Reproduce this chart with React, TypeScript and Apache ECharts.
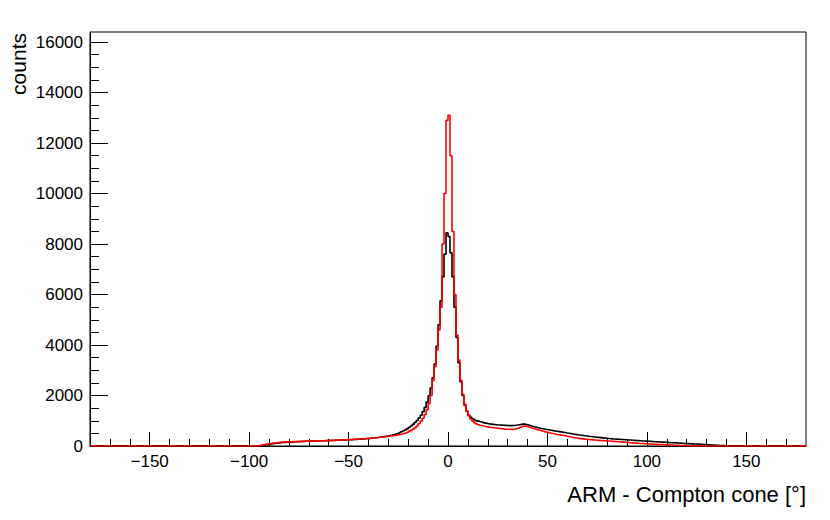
import React, { useEffect, useRef } from "react";
import * as echarts from "echarts";

// Histogram binning (1 degree bins), full range -180..180
const X_MIN = -180;
const X_MAX = 180;
const BIN_WIDTH = 1;
const BIN_START = -100; // lower edge of first listed bin; all bins outside the lists are 0
const Y_MAX = 16400;

// black histogram: bins with lower edges -100 .. 149
const blackCounts = [
  0, 0, 0, 0, 0, 10, 20, 35, 50, 65, 80, 95, 105, 115, 125, 130, 140, 145, 150, 155,
  160, 165, 170, 172, 175, 178, 180, 183, 186, 190,
  192, 195, 198, 200, 202, 205, 207, 210, 212, 215,
  218, 220, 222, 225, 228, 232, 235, 238, 242, 245,
  250, 253, 257, 262, 266, 270, 276, 282, 288, 295,
  302, 310, 318, 327, 336, 346, 358, 370, 384, 398,
  415, 432, 452, 475, 500, 528, 560, 595, 635, 680,
  730, 790, 855, 930, 1010, 1110, 1220, 1360, 1530, 1740,
  1990, 2300, 2700, 3250, 3950, 4800, 5750, 6700, 7600, 8450,
  8300, 7650, 6700, 5500, 4300, 3300, 2550, 2000, 1620, 1380,
  1220, 1140, 1080, 1030, 995, 970, 950, 925, 905, 888,
  875, 865, 855, 847, 840, 834, 828, 822, 816, 810,
  806, 808, 812, 820, 830, 845, 860, 870, 865, 845,
  820, 795, 770, 750, 730, 712, 695, 680, 665, 652,
  638, 625, 610, 596, 582, 570, 558, 545, 532, 518,
  505, 490, 476, 462, 450, 438, 427, 416, 405, 395,
  385, 376, 367, 358, 349, 340, 331, 322, 313, 304,
  295, 290, 284, 279, 273, 268, 262, 257, 251, 246,
  240, 235, 229, 224, 218, 212, 206, 200, 196, 192,
  187, 182, 177, 172, 168, 163, 158, 153, 148, 144,
  140, 135, 131, 127, 122, 117, 112, 107, 102, 98,
  94, 90, 86, 82, 78, 74, 70, 66, 62, 57,
  52, 47, 42, 37, 32, 27, 22, 18, 14, 10,
  7, 4, 2, 1, 0, 0, 0, 0, 0, 0,
];

// red histogram: bins with lower edges -100 .. 149
const redCounts = [
  0, 0, 0, 5, 15, 30, 45, 60, 75, 90,
  100, 110, 120, 130, 138, 145, 152, 158, 163, 167,
  170, 172, 175, 178, 180, 183, 185, 188, 190, 193,
  196, 198, 200, 203, 205, 208, 210, 212, 215, 218,
  221, 224, 227, 230, 234, 238, 242, 246, 250, 254,
  258, 262, 266, 270, 274, 279, 284, 289, 295, 301,
  307, 314, 321, 329, 337, 346, 355, 365, 376, 386,
  395, 405, 415, 428, 442, 458, 476, 497, 520, 548,
  580, 620, 668, 725, 795, 880, 980, 1100, 1250, 1440,
  1680, 2000, 2600, 3150, 3800, 4600, 5500, 8000, 10000, 12900,
  13100, 11500, 8500, 6000, 4400, 3400, 2600, 2050, 1650, 1380,
  1200, 1070, 980, 910, 870, 840, 810, 790, 772, 758,
  745, 735, 725, 715, 705, 695, 685, 677, 670, 665,
  662, 660, 665, 675, 692, 715, 745, 785, 790, 770,
  745, 720, 695, 670, 648, 625, 605, 585, 565, 545,
  525, 505, 488, 472, 458, 445, 432, 418, 403, 388,
  373, 358, 344, 330, 316, 302, 292, 283, 274, 266,
  258, 251, 244, 237, 230, 224, 218, 212, 206, 200,
  197, 191, 185, 179, 173, 167, 161, 155, 149, 143,
  137, 131, 125, 119, 113, 107, 102, 97, 92, 87,
  82, 78, 74, 70, 66, 62, 58, 54, 50, 46,
  42, 38, 34, 30, 27, 24, 21, 18, 15, 12,
  10, 8, 6, 4, 3, 2, 1, 0, 0, 0,
  0, 0, 0, 0, 0, 0, 0, 0, 0, 0,
  0, 0, 0, 0, 0, 0, 0, 0, 0, 0,
];

const xMajorTicks = [-150, -100, -50, 0, 50, 100, 150];
const xMinorTicks = [
  -170, -160, -150, -140, -130, -120, -110, -100, -90, -80, -70, -60, -50, -40, -30, -20, -10,
  0, 10, 20, 30, 40, 50, 60, 70, 80, 90, 100, 110, 120, 130, 140, 150, 160, 170,
];
const yMajorTicks = [0, 2000, 4000, 6000, 8000, 10000, 12000, 14000, 16000];
const yMinorTicks = [
  0, 500, 1000, 1500, 2000, 2500, 3000, 3500, 4000, 4500, 5000, 5500, 6000, 6500, 7000, 7500,
  8000, 8500, 9000, 9500, 10000, 10500, 11000, 11500, 12000, 12500, 13000, 13500, 14000,
  14500, 15000, 15500, 16000,
];

const xTitle = "ARM - Compton cone [°]";
const yTitle = "counts";

function histData(counts: number[]): number[][] {
  const pts: number[][] = [];
  for (let e = X_MIN; e < BIN_START; e += BIN_WIDTH) pts.push([e, 0]);
  counts.forEach((c, i) => pts.push([BIN_START + i * BIN_WIDTH, c]));
  for (let e = BIN_START + counts.length * BIN_WIDTH; e < X_MAX; e += BIN_WIDTH) pts.push([e, 0]);
  pts.push([X_MAX, 0]);
  return pts;
}

const FONT = '"Liberation Sans", Arial, Helvetica, sans-serif';

export default function App() {
  const ref = useRef<HTMLDivElement | null>(null);
  useEffect(() => {
    if (!ref.current) return;
    const chart = echarts.init(ref.current, null, { renderer: "svg" });
    const minus = (v: number) => String(v).replace("-", "\u2212");
    chart.setOption({
      animation: false,
      backgroundColor: "#ffffff",
      textStyle: { fontFamily: FONT },
      grid: {
        left: 90,
        right: 24,
        top: 32,
        bottom: 74,
        show: true,
        borderColor: "#000",
        borderWidth: 1,
        backgroundColor: "transparent",
      },
      xAxis: [
        {
          type: "value",
          min: X_MIN,
          max: X_MAX,
          position: "bottom",
          axisLine: { show: true, onZero: false, lineStyle: { color: "#000", width: 1 } },
          axisTick: { show: true, inside: true, length: 14, customValues: xMajorTicks, lineStyle: { color: "#000", width: 1 } },
          axisLabel: { show: true, customValues: xMajorTicks, formatter: minus, fontSize: 17, color: "#000", fontFamily: FONT, margin: 7 },
          splitLine: { show: false },
        },
        {
          type: "value",
          min: X_MIN,
          max: X_MAX,
          position: "bottom",
          axisLine: { show: false, onZero: false },
          axisTick: { show: true, inside: true, length: 7, customValues: xMinorTicks, lineStyle: { color: "#000", width: 1 } },
          axisLabel: { show: false },
          splitLine: { show: false },
        },
      ],
      yAxis: [
        {
          type: "value",
          min: 0,
          max: Y_MAX,
          position: "left",
          axisLine: { show: true, onZero: false, lineStyle: { color: "#000", width: 1 } },
          axisTick: { show: true, inside: true, length: 18, customValues: yMajorTicks, lineStyle: { color: "#000", width: 1 } },
          axisLabel: { show: true, customValues: yMajorTicks, formatter: (v: number) => String(v), fontSize: 17, color: "#000", fontFamily: FONT, margin: 7 },
          splitLine: { show: false },
        },
        {
          type: "value",
          min: 0,
          max: Y_MAX,
          position: "left",
          axisLine: { show: false, onZero: false },
          axisTick: { show: true, inside: true, length: 9, customValues: yMinorTicks, lineStyle: { color: "#000", width: 1 } },
          axisLabel: { show: false },
          splitLine: { show: false },
        },
      ],
      series: [
        {
          type: "line",
          name: "black",
          xAxisIndex: 0,
          yAxisIndex: 0,
          step: "end",
          showSymbol: false,
          symbol: "none",
          data: histData(blackCounts),
          lineStyle: { color: "#000000", width: 1.6 },
          itemStyle: { color: "#000000" },
          z: 3,
        },
        {
          type: "line",
          name: "red",
          xAxisIndex: 0,
          yAxisIndex: 0,
          step: "end",
          showSymbol: false,
          symbol: "none",
          data: histData(redCounts),
          lineStyle: { color: "#ff0000", width: 1.6 },
          itemStyle: { color: "#ff0000" },
          z: 4,
        },
      ],
      graphic: [
        {
          type: "text",
          x: 806,
          y: 494,
          style: { text: xTitle, font: `22px ${FONT}`, fill: "#000", textAlign: "right", textVerticalAlign: "middle" },
        },
        {
          type: "text",
          x: 18,
          y: 33,
          rotation: Math.PI / 2,
          style: { text: yTitle, font: `21px ${FONT}`, fill: "#000", textAlign: "right", textVerticalAlign: "middle" },
        },
      ],
    });
    return () => chart.dispose();
  }, []);
  return (
    <div
      ref={ref}
      style={{ position: "fixed", left: 0, top: 0, width: 830, height: 520, background: "#fff" }}
    />
  );
}
